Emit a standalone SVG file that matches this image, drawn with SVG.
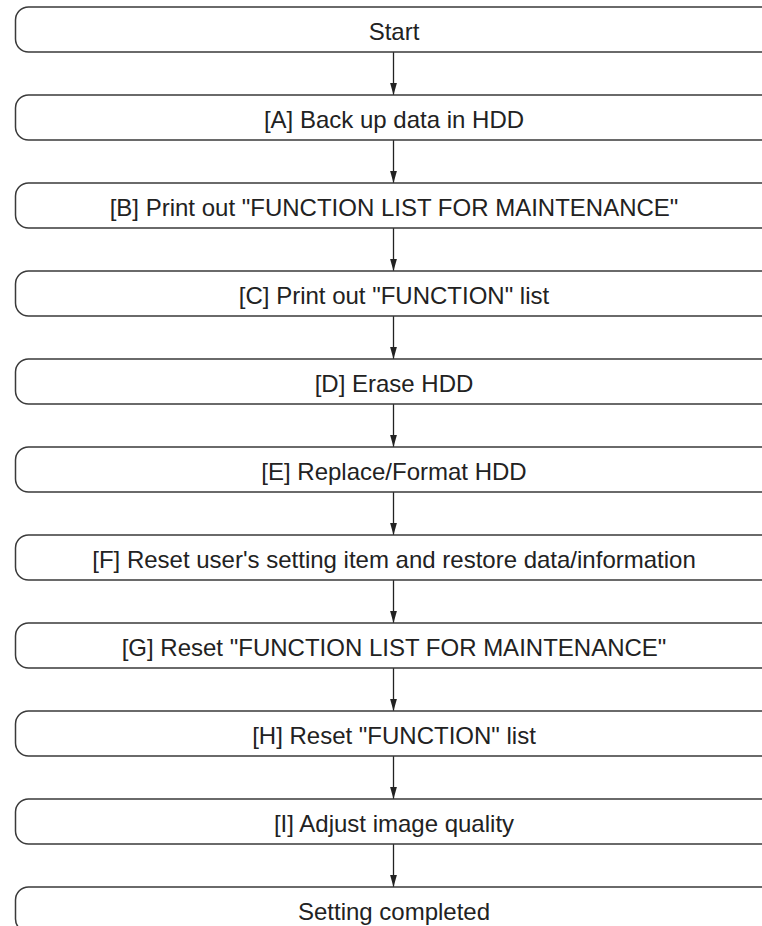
<svg xmlns="http://www.w3.org/2000/svg" width="762" height="926" viewBox="0 0 762 926">
<style>
.box{fill:#fff;stroke:#3a3a3a;stroke-width:1.5}
.t{font-family:"Liberation Sans",Arial,sans-serif;font-size:24px;fill:#222;text-anchor:middle}
.c{stroke:#222;stroke-width:1.3;fill:none}
</style>
<defs>
<marker id="ah" markerWidth="14" markerHeight="10" refX="12" refY="5" orient="auto" markerUnits="userSpaceOnUse">
<path d="M0,1.6 L12,5 L0,8.4 Z" fill="#222"/>
</marker>
</defs>
<rect width="762" height="926" fill="#fff"/>
<g id="connectors">
<line class="c" x1="393.5" y1="52" x2="393.5" y2="95" marker-end="url(#ah)"/>
<line class="c" x1="393.5" y1="140" x2="393.5" y2="183" marker-end="url(#ah)"/>
<line class="c" x1="393.5" y1="228" x2="393.5" y2="271" marker-end="url(#ah)"/>
<line class="c" x1="393.5" y1="316" x2="393.5" y2="359" marker-end="url(#ah)"/>
<line class="c" x1="393.5" y1="404" x2="393.5" y2="447" marker-end="url(#ah)"/>
<line class="c" x1="393.5" y1="492" x2="393.5" y2="535" marker-end="url(#ah)"/>
<line class="c" x1="393.5" y1="580" x2="393.5" y2="623" marker-end="url(#ah)"/>
<line class="c" x1="393.5" y1="668" x2="393.5" y2="711" marker-end="url(#ah)"/>
<line class="c" x1="393.5" y1="756" x2="393.5" y2="799" marker-end="url(#ah)"/>
<line class="c" x1="393.5" y1="844" x2="393.5" y2="887" marker-end="url(#ah)"/>
</g>
<g id="start"><rect class="box" x="15.5" y="7" width="758" height="45" rx="13"/><text class="t" x="394" y="40">Start</text></g>
<g id="nodeA"><rect class="box" x="15.5" y="95" width="758" height="45" rx="13"/><text class="t" x="394" y="128">[A] Back up data in HDD</text></g>
<g id="nodeB"><rect class="box" x="15.5" y="183" width="758" height="45" rx="13"/><text class="t" x="394" y="216">[B] Print out "FUNCTION LIST FOR MAINTENANCE"</text></g>
<g id="nodeC"><rect class="box" x="15.5" y="271" width="758" height="45" rx="13"/><text class="t" x="394" y="304">[C] Print out "FUNCTION" list</text></g>
<g id="nodeD"><rect class="box" x="15.5" y="359" width="758" height="45" rx="13"/><text class="t" x="394" y="392">[D] Erase HDD</text></g>
<g id="nodeE"><rect class="box" x="15.5" y="447" width="758" height="45" rx="13"/><text class="t" x="394" y="480">[E] Replace/Format HDD</text></g>
<g id="nodeF"><rect class="box" x="15.5" y="535" width="758" height="45" rx="13"/><text class="t" x="394" y="568">[F] Reset user's setting item and restore data/information</text></g>
<g id="nodeG"><rect class="box" x="15.5" y="623" width="758" height="45" rx="13"/><text class="t" x="394" y="656">[G] Reset "FUNCTION LIST FOR MAINTENANCE"</text></g>
<g id="nodeH"><rect class="box" x="15.5" y="711" width="758" height="45" rx="13"/><text class="t" x="394" y="744">[H] Reset "FUNCTION" list</text></g>
<g id="nodeI"><rect class="box" x="15.5" y="799" width="758" height="45" rx="13"/><text class="t" x="394" y="832">[I] Adjust image quality</text></g>
<g id="end"><rect class="box" x="15.5" y="887" width="758" height="45" rx="13"/><text class="t" x="394" y="920">Setting completed</text></g>
</svg>
